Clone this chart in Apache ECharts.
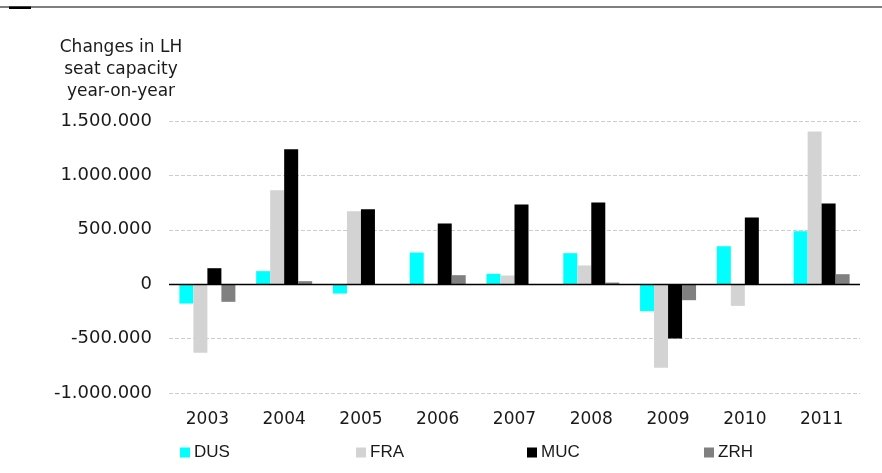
<!DOCTYPE html>
<html>
<head>
<meta charset="utf-8">
<script src="https://cdn.jsdelivr.net/npm/echarts@6/dist/echarts.min.js"></script>
<style>html,body{margin:0;padding:0;background:#fff;}#c{width:882px;height:473px;}</style>
</head>
<body>
<div id="c"></div>
<script>
const years = ['2003','2004','2005','2006','2007','2008','2009','2010','2011'];
const dus = [-178000, 120000, -86000, 291000, 95000, 285000, -248000, 349000, 487000];
const fra = [-631000, 864000, 671000, -5000, 80000, 172000, -769000, -199000, 1403000];
const muc = [147000, 1241000, 689000, 558000, 732000, 751000, -499000, 613000, 741000];
const zrh = [-162000, 28000, 0, 83000, -4000, 15000, -147000, 0, 92000];
const seriesNames = ['DUS','FRA','MUC','ZRH'];
const seriesColors = ['#00FFFF','#D3D3D3','#000000','#808080'];
const seriesData = [dus, fra, muc, zrh];
const titleLines = ['Changes in LH','seat capacity','year-on-year'];

function fmt(v){
  const s = Math.abs(v).toString().replace(/\B(?=(\d{3})+(?!\d))/g,'.');
  return (v < 0 ? '-' : '') + s;
}

const chart = echarts.init(document.getElementById('c'), null, {renderer:'canvas'});
const legendLefts = [175, 351, 522, 699];

const series = seriesNames.map((n,i)=>{
  const s = {
    name: n,
    type: 'bar',
    data: seriesData[i],
    barWidth: 14,
    barGap: '0%',
    itemStyle: {color: seriesColors[i]},
    emphasis: {disabled: true},
    animation: false
  };
  if (i === 0) {
    s.markLine = {
      silent: true,
      symbol: ['none','none'],
      label: {show:false},
      lineStyle: {color:'#000', type:'solid', width:1.3},
      data: [{yAxis: 0}],
      animation: false
    };
  }
  return s;
});

chart.setOption({
  animation: false,
  grid: {left:169, right:22, top:121, bottom:80, containLabel:false},
  legend: seriesNames.map((n,i)=>({
    data:[n], left: legendLefts[i], top: 439, itemWidth: 10, itemHeight: 10, itemGap: 4,
    icon: 'rect', selectedMode: false,
    textStyle: {fontFamily:'Liberation Sans', fontSize:17, color:'#1a1a1a', padding:[0,0,0,-1]}
  })),
  xAxis: {
    type:'category', data: years,
    axisLine:{show:false, onZero:false},
    axisTick:{show:false},
    axisLabel:{fontFamily:'DejaVu Sans', fontSize:17, color:'#1a1a1a', margin:18},
    splitLine:{show:false}
  },
  yAxis: {
    type:'value', min:-1000000, max:1500000, interval:500000,
    axisLine:{show:false}, axisTick:{show:false},
    axisLabel:{fontFamily:'DejaVu Sans', fontSize:18, color:'#1a1a1a', margin:17, formatter: fmt},
    splitLine:{show:true, lineStyle:{color:'#cccccc', type:[4,2], width:1}}
  },
  graphic: [
    {type:'rect', shape:{x:0, y:6.5, width:882, height:1}, style:{fill:'#000'}},
    {type:'rect', shape:{x:9, y:6.5, width:22, height:2.5}, style:{fill:'#000'}},
    {type:'text', x:121, y:37, style:{text: titleLines.join('\n'), fontFamily:'DejaVu Sans', fontSize:17, lineHeight:22, fill:'#1a1a1a', align:'center', verticalAlign:'top'}}
  ],
  series: series
});
</script>
</body>
</html>
